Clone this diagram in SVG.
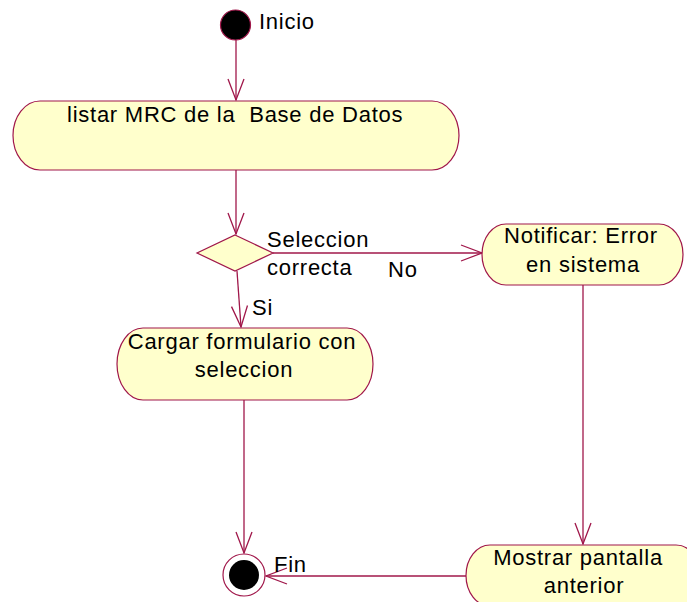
<svg xmlns="http://www.w3.org/2000/svg" width="687" height="602" viewBox="0 0 687 602">
<defs>
<style>
.act{fill:#ffffcc;stroke:#a0174a;stroke-width:1.2}
.edge{fill:none;stroke:#a0174a;stroke-width:1.3}
.t{font-family:"Liberation Sans",Arial,sans-serif;font-size:22px;fill:#000;letter-spacing:0.75px}
.c{text-anchor:middle}
</style>
<marker id="arr" markerUnits="userSpaceOnUse" markerWidth="24" markerHeight="20" viewBox="-22 -10 24 20" refX="0" refY="0" orient="auto">
<path d="M-21,-8 L0,0 L-21,8" fill="none" stroke="#a0174a" stroke-width="1.3"/>
</marker>
</defs>
<rect width="687" height="602" fill="#ffffff"/>
<g id="connectors">
<line class="edge" x1="236" y1="40" x2="236" y2="100" marker-end="url(#arr)"/>
<line class="edge" x1="236" y1="170" x2="236" y2="234" marker-end="url(#arr)"/>
<line class="edge" x1="273" y1="253" x2="482" y2="253" marker-end="url(#arr)"/>
<line class="edge" x1="237" y1="271" x2="241" y2="327" marker-end="url(#arr)"/>
<line class="edge" x1="244" y1="400" x2="244" y2="553" marker-end="url(#arr)"/>
<line class="edge" x1="583" y1="285" x2="583" y2="544" marker-end="url(#arr)"/>
<line class="edge" x1="466" y1="576" x2="266" y2="576" marker-end="url(#arr)"/>
<text class="t" x="267" y="247">Seleccion</text>
<text class="t" x="267" y="275">correcta</text>
<text class="t" x="388" y="277">No</text>
<text class="t" x="252" y="315">Si</text>
</g>
<g id="inicio">
<circle cx="235.5" cy="25" r="15" fill="#000" stroke="#a0174a" stroke-width="1.2"/>
<text class="t" x="259" y="29">Inicio</text>
</g>
<g id="listar">
<path class="act" d="M40,101 H432 A27,34.5 0 0 1 432,170 H40 A27,34.5 0 0 1 40,101 Z"/>
<text class="t" x="67" y="122">listar MRC de la &#160;Base de Datos</text>
</g>
<g id="decision">
<polygon class="act" points="235,235 273,253 235,271 197,253"/>
</g>
<g id="notificar">
<path class="act" d="M506,224 H659 A24,30.5 0 0 1 659,285 H506 A24,30.5 0 0 1 506,224 Z"/>
<text class="t c" x="581" y="243">Notificar: Error</text>
<text class="t c" x="583" y="272">en sistema</text>
</g>
<g id="cargar">
<path class="act" d="M143,328 H347 A26,36 0 0 1 347,400 H143 A26,36 0 0 1 143,328 Z"/>
<text class="t c" x="242" y="349">Cargar formulario con</text>
<text class="t c" x="244" y="377">seleccion</text>
</g>
<g id="mostrar">
<path class="act" d="M490,545 H676 A24,30.5 0 0 1 676,606 H490 A24,30.5 0 0 1 490,545 Z"/>
<text class="t c" x="578" y="565">Mostrar pantalla</text>
<text class="t c" x="584" y="593">anterior</text>
</g>
<g id="fin">
<circle cx="244" cy="575" r="21" fill="#fff" stroke="#a0174a" stroke-width="1.2"/>
<circle cx="244" cy="575" r="15" fill="#000"/>
<text class="t" x="274" y="572">Fin</text>
</g>
</svg>
